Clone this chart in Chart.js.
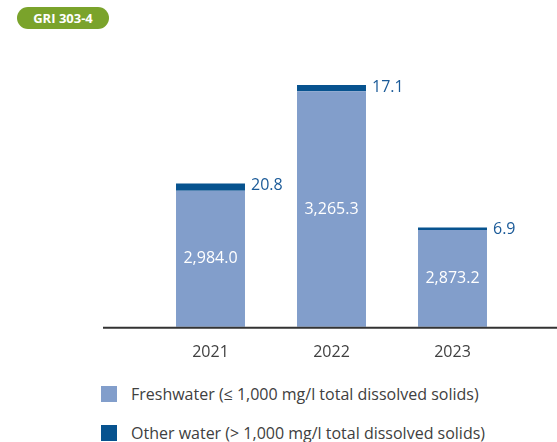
<!DOCTYPE html>
<html>
<head>
<meta charset="utf-8">
<script src="https://cdn.jsdelivr.net/npm/chart.js@4.4.0/dist/chart.umd.min.js"></script>
<style>
  html, body { margin: 0; padding: 0; background: #fff; }
  body { width: 557px; height: 442px; position: relative; overflow: hidden; font-family: "Open Sans", sans-serif; }
  #badge {
    position: absolute; left: 17px; top: 7px; width: 92px; height: 22px; border-radius: 11px;
    background: #7aa32b; color: #fff; font: bold 13px "Open Sans", sans-serif;
    line-height: 22px; text-align: center;
  }
  #wrap { position: absolute; left: 0; top: 0; width: 557px; height: 370px; }
  .legend { position: absolute; left: 101px; font-size: 16px; color: #404040; white-space: nowrap; }
  .legend span.box { display: inline-block; width: 16px; height: 16px; vertical-align: -2px; margin-right: 14px; }
</style>
</head>
<body>
<div id="badge">GRI 303-4</div>
<div id="wrap"><canvas id="waterChart"></canvas></div>
<div class="legend" style="top:383px"><span class="box" style="background:#829ecb"></span>Freshwater (≤ 1,000 mg/l total dissolved solids)</div>
<div class="legend" style="top:422px"><span class="box" style="background:#07538f"></span>Other water (&gt; 1,000 mg/l total dissolved solids)</div>
<script>
// Забор воды по годам, мегалитры
const years = ['2021', '2022', '2023'];
const freshwater = [2984.0, 3265.3, 2873.2];
const otherWater = [20.8, 17.1, 6.9];

const fmt = v => v.toLocaleString('en-US', { minimumFractionDigits: 1, maximumFractionDigits: 1 });

// Подписи значений: пресная вода внутри столбца, прочая справа от верхней полосы
const valueLabels = {
    id: 'valueLabels',
    afterDatasetsDraw(chart) {
        const ctx = chart.ctx;
        const bottom = chart.chartArea.bottom;
        ctx.save();
        ctx.font = '16px "Open Sans", sans-serif';
        ctx.textBaseline = 'middle';
        chart.getDatasetMeta(0).data.forEach((bar, i) => {
            // ось начинается не с нуля, поэтому низ столбца обрезан областью графика
            const base = Math.min(bar.base, bottom);
            ctx.fillStyle = '#ffffff';
            ctx.textAlign = 'center';
            ctx.fillText(fmt(freshwater[i]), bar.x, (bar.y + base) / 2);
        });
        chart.getDatasetMeta(1).data.forEach((bar, i) => {
            ctx.fillStyle = '#1a5a98';
            ctx.textAlign = 'left';
            ctx.fillText(fmt(otherWater[i]), bar.x + bar.width / 2 + 6, bar.y + 2);
        });
        ctx.restore();
    }
};

// Базовая линия шире области графика
const baseLine = {
    id: 'baseLine',
    afterDatasetsDraw(chart) {
        const ctx = chart.ctx;
        const y = chart.chartArea.bottom + 1;
        ctx.save();
        ctx.strokeStyle = '#333333';
        ctx.lineWidth = 2;
        ctx.beginPath();
        ctx.moveTo(103, y);
        ctx.lineTo(557, y);
        ctx.stroke();
        ctx.restore();
    }
};

new Chart(document.getElementById('waterChart'), {
    type: 'bar',
    data: {
        labels: years,
        datasets: [
            { label: 'Freshwater', data: freshwater, backgroundColor: '#829ecb' },
            { label: 'Other water', data: otherWater, backgroundColor: '#07538f' }
        ]
    },
    options: {
        responsive: true,
        maintainAspectRatio: false,
        animation: false,
        layout: { padding: { left: 150, right: 44, top: 8, bottom: 0 } },
        datasets: { bar: { barPercentage: 0.57, categoryPercentage: 1 } },
        plugins: { legend: { display: false }, tooltip: { enabled: false } },
        scales: {
            x: {
                stacked: true,
                grid: { display: false },
                border: { display: false },
                ticks: { color: '#404040', font: { family: 'Open Sans', size: 16 }, padding: 8 }
            },
            y: {
                stacked: true,
                display: false,
                min: 2600,
                max: 3500
            }
        }
    },
    plugins: [valueLabels, baseLine]
});
</script>
</body>
</html>
